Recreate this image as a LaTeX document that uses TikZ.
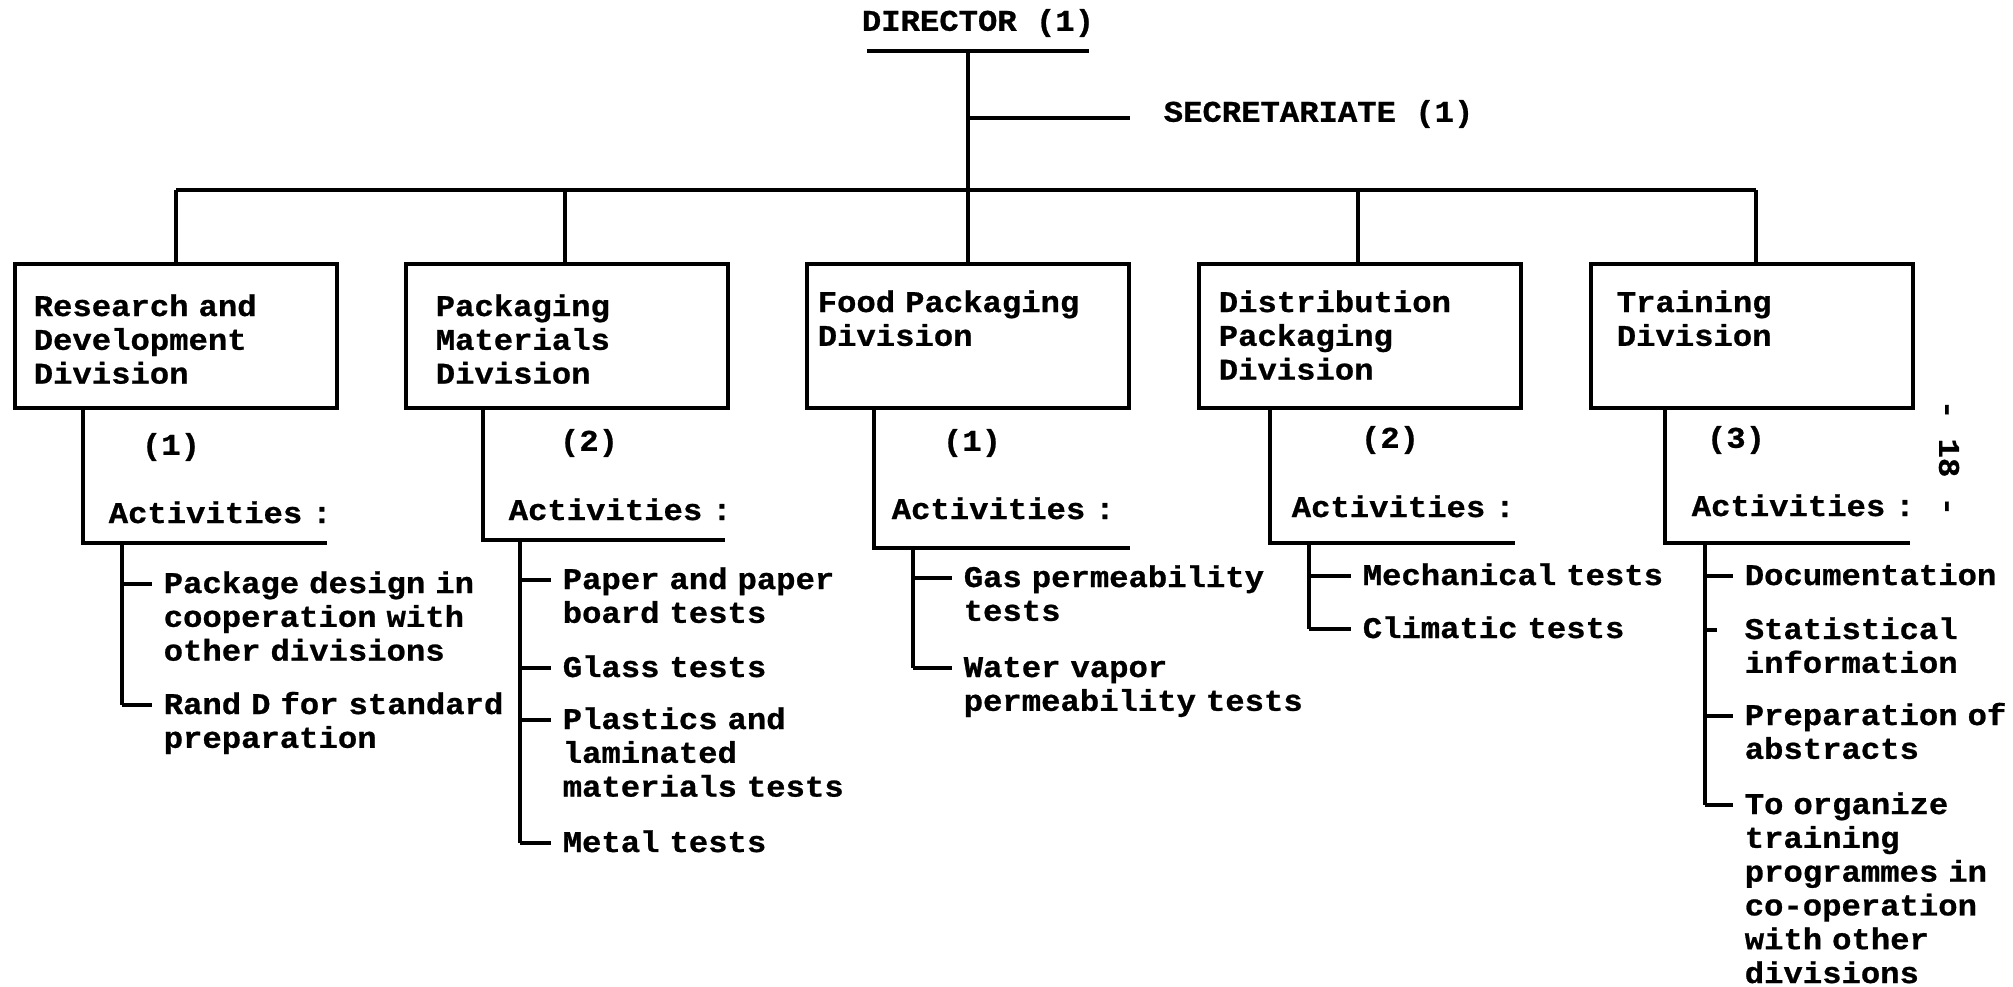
\documentclass[tikz,border=0pt]{standalone}
\usepackage{fontspec}
\setmonofont[FakeStretch=1.075,BoldFeatures={FakeBold=0.8}]{Liberation Mono}
\begin{document}
\begin{tikzpicture}[x=1pt,y=-1pt,line width=3.5pt,
  every node/.style={font=\ttfamily\bfseries\fontsize{30}{33.8}\selectfont,inner sep=0pt},
  divbox/.style={draw,line width=3.5pt,minimum width=322pt,minimum height=144pt},
  lbl/.style={anchor=base west,align=left,text width=420pt},
  dsh/.style={line width=3.5pt}]
\fill[white] (0,0) rectangle (2013,987);
\useasboundingbox (0,0) rectangle (2013,987);

% Director and secretariate
\node (dir) at (978,23) {DIRECTOR (1)};
\coordinate (dirl) at (867,51);
\coordinate (dirr) at (1089,51);
\draw (dirl) -- (dirr);
\coordinate (j0) at (968,51);
\coordinate (secj) at (968,118);
\node[anchor=west] (sec) at (1162,114) {SECRETARIATE (1)};
\draw (secj) -- ([xshift=-32pt]sec.west |- secj);

% bus
\coordinate (bus1) at (176,190);
\coordinate (bus2) at (565,190);
\coordinate (bus3) at (968,190);
\coordinate (bus4) at (1358,190);
\coordinate (bus5) at (1756,190);
\draw (j0) -- (bus3);
\draw (bus1) -- (bus5);

% boxes
\node[divbox] (b1) at (176,336) {};
\node[divbox] (b2) at (567,336) {};
\node[divbox] (b3) at (968,336) {};
\node[divbox] (b4) at (1360,336) {};
\node[divbox] (b5) at (1752,336) {};
\foreach \i in {1,...,5} { \draw (bus\i) -- (bus\i |- b\i.north); }

\node[lbl] (t1) at (32,316) {Research and\\Development\\Division};
\node[lbl] (t2) at (434,316) {Packaging\\Materials\\Division};
\node[lbl] (t3) at (816,312) {Food Packaging\\Division};
\node[lbl] (t4) at (1217,312) {Distribution\\Packaging\\Division};
\node[lbl] (t5) at (1615,312) {Training\\Division};

% ---------- Division 1
\coordinate (v1) at (83,408); \coordinate (u1) at (83,543); \coordinate (w1) at (327,543);
\draw (v1) -- (u1) -- (w1);
\node (n1) at (171,447) {(1)};
\node[lbl] (a1) at (107,523) {Activities :};
\coordinate (s1) at (122,543);
\coordinate (k11) at (122,584);
\node[lbl] (i11) at (162,593) {Package design in\\cooperation with\\other divisions};
\coordinate (k12) at (122,705);
\node[lbl] (i12) at (162,714) {Rand D for standard\\preparation};
\draw (s1) -- (k12);
\draw[dsh] (k11) -- ([xshift=-10pt]i11.base west |- k11);
\draw[dsh] (k12) -- ([xshift=-10pt]i12.base west |- k12);

% ---------- Division 2
\coordinate (v2) at (483,408); \coordinate (u2) at (483,540); \coordinate (w2) at (725,540);
\draw (v2) -- (u2) -- (w2);
\node (n2) at (589,443) {(2)};
\node[lbl] (a2) at (507,520) {Activities :};
\coordinate (s2) at (520,540);
\coordinate (k21) at (520,580);
\node[lbl] (i21) at (561,589) {Paper and paper\\board tests};
\coordinate (k22) at (520,668);
\node[lbl] (i22) at (561,677) {Glass tests};
\coordinate (k23) at (520,720);
\node[lbl] (i23) at (561,729) {Plastics and\\laminated\\materials tests};
\coordinate (k24) at (520,843);
\node[lbl] (i24) at (561,852) {Metal tests};
\draw (s2) -- (k24);
\draw[dsh] (k21) -- ([xshift=-10pt]i21.base west |- k21);
\draw[dsh] (k22) -- ([xshift=-10pt]i22.base west |- k22);
\draw[dsh] (k23) -- ([xshift=-10pt]i23.base west |- k23);
\draw[dsh] (k24) -- ([xshift=-10pt]i24.base west |- k24);

% ---------- Division 3
\coordinate (v3) at (874,408); \coordinate (u3) at (874,548); \coordinate (w3) at (1130,548);
\draw (v3) -- (u3) -- (w3);
\node (n3) at (972,443) {(1)};
\node[lbl] (a3) at (890,519) {Activities :};
\coordinate (s3) at (913,548);
\coordinate (k31) at (913,578);
\node[lbl] (i31) at (962,587) {Gas permeability\\tests};
\coordinate (k32) at (913,668);
\node[lbl] (i32) at (962,677) {Water vapor\\permeability tests};
\draw (s3) -- (k32);
\draw[dsh] (k31) -- ([xshift=-10pt]i31.base west |- k31);
\draw[dsh] (k32) -- ([xshift=-10pt]i32.base west |- k32);

% ---------- Division 4
\coordinate (v4) at (1270,408); \coordinate (u4) at (1270,543); \coordinate (w4) at (1515,543);
\draw (v4) -- (u4) -- (w4);
\node (n4) at (1390,440) {(2)};
\node[lbl] (a4) at (1290,517) {Activities :};
\coordinate (s4) at (1309,543);
\coordinate (k41) at (1309,576);
\node[lbl] (i41) at (1361,585) {Mechanical tests};
\coordinate (k42) at (1309,629);
\node[lbl] (i42) at (1361,638) {Climatic tests};
\draw (s4) -- (k42);
\draw[dsh] (k41) -- ([xshift=-10pt]i41.base west |- k41);
\draw[dsh] (k42) -- ([xshift=-10pt]i42.base west |- k42);

% ---------- Division 5
\coordinate (v5) at (1665,408); \coordinate (u5) at (1665,543); \coordinate (w5) at (1910,543);
\draw (v5) -- (u5) -- (w5);
\node (n5) at (1736,440) {(3)};
\node[lbl] (a5) at (1690,516) {Activities :};
\coordinate (s5) at (1705,543);
\coordinate (k51) at (1705,576);
\node[lbl] (i51) at (1743,585) {Documentation};
\coordinate (k52) at (1705,630);
\node[lbl] (i52) at (1743,639) {Statistical\\information};
\coordinate (k53) at (1705,716);
\node[lbl] (i53) at (1743,725) {Preparation of\\abstracts};
\coordinate (k54) at (1705,805);
\node[lbl] (i54) at (1743,814) {To organize\\training\\programmes in\\co-operation\\with other\\divisions};
\draw (s5) -- (k54);
\draw[dsh] (k51) -- ([xshift=-10pt]i51.base west |- k51);
\draw[dsh] (k52) -- ([xshift=-26pt]i52.base west |- k52);
\draw[dsh] (k53) -- ([xshift=-10pt]i53.base west |- k53);
\draw[dsh] (k54) -- ([xshift=-10pt]i54.base west |- k54);

% page number
\node[rotate=-90] (pg) at (1949,458) {- 18 -};
\end{tikzpicture}
\end{document}
